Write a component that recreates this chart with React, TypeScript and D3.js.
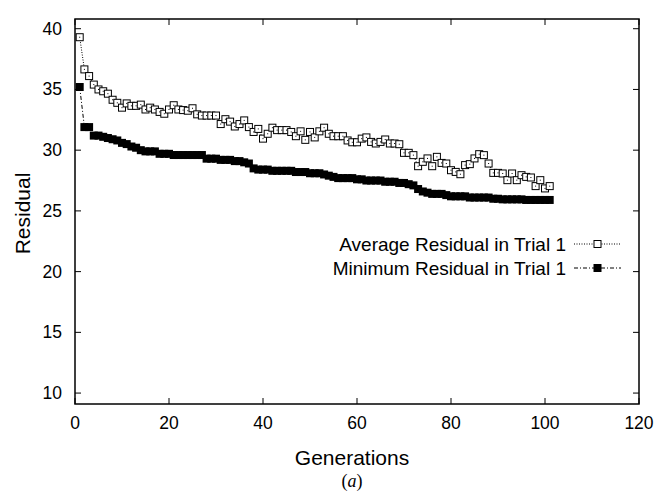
import React, { useEffect, useRef } from 'react';
import * as d3 from 'd3';

// generations 1..101
const generations: number[] = d3.range(1, 102);

const averageResidual: number[] = [
  39.3, 36.65, 36.1, 35.4, 35.0, 34.85, 34.65, 34.15, 33.9, 33.5,
  33.85, 33.65, 33.65, 33.75, 33.35, 33.5, 33.35, 33.15, 33.0, 33.35,
  33.7, 33.35, 33.3, 33.25, 33.45, 32.95, 32.85, 32.85, 32.85, 32.85,
  32.15, 32.55, 32.35, 31.95, 32.15, 32.45, 31.9, 31.5, 31.75, 30.95,
  31.35, 31.85, 31.65, 31.65, 31.65, 31.5, 31.15, 31.55, 30.85, 31.5,
  31.05, 31.55, 31.85, 31.35, 31.15, 31.15, 31.15, 30.8, 30.65, 30.65,
  30.95, 31.05, 30.68, 30.55, 30.68, 30.88, 30.55, 30.55, 30.49, 29.78,
  29.78, 29.59, 28.68, 29.04, 29.32, 28.68, 29.45, 28.95, 28.9, 28.35,
  28.21, 28.02, 28.77, 28.85, 29.32, 29.67, 29.59, 28.9, 28.13, 28.13,
  28.08, 27.53, 28.08, 27.53, 27.94, 27.8, 27.75, 27.04, 27.53, 26.85,
  27.04,
];

const minimumResidual: number[] = [
  35.2, 31.9, 31.9, 31.2, 31.2, 31.1, 31.0, 30.9, 30.8, 30.6,
  30.5, 30.3, 30.2, 30.0, 29.9, 29.9, 29.9, 29.7, 29.7, 29.7,
  29.6, 29.6, 29.6, 29.6, 29.6, 29.6, 29.6, 29.3, 29.3, 29.3,
  29.2, 29.2, 29.2, 29.1, 29.1, 29.0, 28.9, 28.5, 28.4, 28.4,
  28.4, 28.3, 28.3, 28.3, 28.3, 28.3, 28.2, 28.2, 28.2, 28.1,
  28.1, 28.1, 28.0, 27.9, 27.8, 27.7, 27.7, 27.7, 27.7, 27.6,
  27.6, 27.5, 27.5, 27.5, 27.5, 27.4, 27.4, 27.4, 27.3, 27.3,
  27.2, 27.1, 26.8, 26.6, 26.5, 26.4, 26.4, 26.4, 26.3, 26.2,
  26.2, 26.2, 26.2, 26.1, 26.1, 26.1, 26.1, 26.1, 26.0, 26.0,
  25.95, 25.95, 25.95, 25.95, 25.95, 25.9, 25.9, 25.9, 25.9, 25.9,
  25.9,
];

const xTicks: number[] = [0, 20, 40, 60, 80, 100, 120];
const yTicks: number[] = [10, 15, 20, 25, 30, 35, 40];
const legendLabels: string[] = ['Average Residual in Trial 1', 'Minimum Residual in Trial 1'];

const App = () => {
  const ref = useRef<SVGSVGElement>(null);

  useEffect(() => {
    const width = 657, height = 491;
    const left = 75, right = 639, top = 19, bottom = 404;
    const font = '"Liberation Sans", Arial, Helvetica, sans-serif';

    const svg = d3.select(ref.current);
    svg.selectAll('*').remove();
    svg.attr('width', width).attr('height', height);

    const x = d3.scaleLinear().domain([0, 120]).range([left, right]);
    const y = d3.scaleLinear().domain([9.1, 40.8]).range([bottom, top]);

    // frame
    svg.append('rect')
      .attr('x', left).attr('y', top)
      .attr('width', right - left).attr('height', bottom - top)
      .attr('fill', 'none').attr('stroke', '#000').attr('stroke-width', 1.5);

    // ticks, gnuplot style: inward on all four sides
    const tickLen = 6;
    yTicks.forEach(function (t) {
      svg.append('line').attr('x1', left).attr('x2', left + tickLen)
        .attr('y1', y(t)).attr('y2', y(t)).attr('stroke', '#000');
      svg.append('line').attr('x1', right).attr('x2', right - tickLen)
        .attr('y1', y(t)).attr('y2', y(t)).attr('stroke', '#000');
      svg.append('text').attr('x', left - 13).attr('y', y(t) + 6)
        .attr('text-anchor', 'end').attr('font-family', font).attr('font-size', 17.5)
        .text(t);
    });
    xTicks.forEach(function (t) {
      svg.append('line').attr('x1', x(t)).attr('x2', x(t))
        .attr('y1', bottom).attr('y2', bottom - tickLen).attr('stroke', '#000');
      svg.append('line').attr('x1', x(t)).attr('x2', x(t))
        .attr('y1', top).attr('y2', top + tickLen).attr('stroke', '#000');
      svg.append('text').attr('x', x(t)).attr('y', bottom + 25)
        .attr('text-anchor', 'middle').attr('font-family', font).attr('font-size', 17.5)
        .text(t);
    });

    // axis titles
    svg.append('text')
      .attr('transform', 'translate(30,' + ((top + bottom) / 2 + 2) + ') rotate(-90)')
      .attr('text-anchor', 'middle').attr('font-family', font).attr('font-size', 21)
      .text('Residual');
    svg.append('text').attr('x', (left + right) / 2 - 5).attr('y', 465)
      .attr('text-anchor', 'middle').attr('font-family', font).attr('font-size', 21)
      .text('Generations');
    svg.append('text').attr('x', (left + right) / 2 - 5).attr('y', 487)
      .attr('text-anchor', 'middle').attr('font-family', '"Liberation Serif", "Times New Roman", serif')
      .attr('font-size', 18)
      .html('(<tspan font-style="italic">a</tspan>)');

    const avg = generations.map(function (g, i) { return { g: g, v: averageResidual[i] }; });
    const min = generations.map(function (g, i) { return { g: g, v: minimumResidual[i] }; });

    const line = d3.line<{ g: number; v: number }>()
      .x(function (d) { return x(d.g); })
      .y(function (d) { return y(d.v); });

    // minimum residual: dash-dot line + filled squares
    svg.append('path').datum(min)
      .attr('fill', 'none').attr('stroke', '#000').attr('stroke-width', 1)
      .attr('stroke-dasharray', '4,2,1,2')
      .attr('d', line);
    svg.selectAll('.minPt').data(min).enter().append('rect')
      .attr('x', function (d) { return x(d.g) - 4; })
      .attr('y', function (d) { return y(d.v) - 4; })
      .attr('width', 8).attr('height', 8).attr('fill', '#000');

    // average residual: dotted line + open squares with centre dot
    svg.append('path').datum(avg)
      .attr('fill', 'none').attr('stroke', '#000').attr('stroke-width', 1)
      .attr('stroke-dasharray', '1,1.5')
      .attr('d', line);
    svg.selectAll('.avgPt').data(avg).enter().append('rect')
      .attr('x', function (d) { return x(d.g) - 3.5; })
      .attr('y', function (d) { return y(d.v) - 3.5; })
      .attr('width', 7).attr('height', 7)
      .attr('fill', '#fff').attr('stroke', '#000').attr('stroke-width', 1);
    svg.selectAll('.avgDot').data(avg).enter().append('rect')
      .attr('x', function (d) { return x(d.g) - 0.5; })
      .attr('y', function (d) { return y(d.v) - 0.5; })
      .attr('width', 1).attr('height', 1).attr('fill', '#000');

    // legend
    const legY = [244, 268];
    legendLabels.forEach(function (lab, i) {
      svg.append('text').attr('x', 566).attr('y', legY[i] + 6.5)
        .attr('text-anchor', 'end').attr('font-family', font).attr('font-size', 19)
        .text(lab);
      svg.append('line').attr('x1', 574).attr('x2', 621)
        .attr('y1', legY[i]).attr('y2', legY[i])
        .attr('stroke', '#000').attr('stroke-width', 1)
        .attr('stroke-dasharray', i === 0 ? '1,1.5' : '4,2,1,2');
      if (i === 0) {
        svg.append('rect').attr('x', 594).attr('y', legY[i] - 3.5).attr('width', 7).attr('height', 7)
          .attr('fill', '#fff').attr('stroke', '#000');
      } else {
        svg.append('rect').attr('x', 593.5).attr('y', legY[i] - 4).attr('width', 8).attr('height', 8)
          .attr('fill', '#000');
      }
    });
  });

  return (
    <div style={{ position: 'absolute', left: 0, top: 0, background: '#fff' }}>
      <svg ref={ref} style={{ display: 'block' }} />
    </div>
  );
};

export default App;
